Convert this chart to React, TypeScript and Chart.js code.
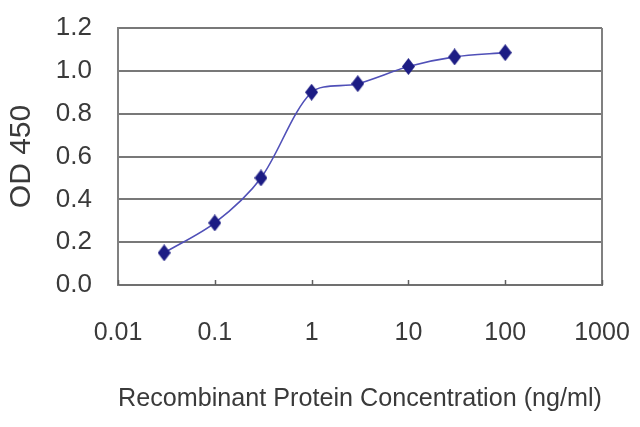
import React, { useEffect, useRef } from "react";
import { Chart, registerables } from "chart.js";

Chart.register(...registerables);

const concentrations = [0.03, 0.1, 0.3, 1, 3, 10, 30, 100];
const odValues = [0.15, 0.29, 0.5, 0.9, 0.94, 1.02, 1.065, 1.085];
const xTickValues = [0.01, 0.1, 1, 10, 100, 1000];
const xTickLabels = ["0.01", "0.1", "1", "10", "100", "1000"];
const yTickLabels = ["0.0", "0.2", "0.4", "0.6", "0.8", "1.0", "1.2"];

const FONT = "'Liberation Sans', Arial, sans-serif";

function makeDiamond(): HTMLCanvasElement {
  const c = document.createElement("canvas");
  c.width = 13;
  c.height = 17;
  const ctx = c.getContext("2d")!;
  ctx.fillStyle = "#1c1c84";
  ctx.beginPath();
  ctx.moveTo(6.5, 0);
  ctx.lineTo(13, 8.5);
  ctx.lineTo(6.5, 17);
  ctx.lineTo(0, 8.5);
  ctx.closePath();
  ctx.fill();
  return c;
}

const frameAndTicks = {
  id: "frameAndTicks",
  afterDatasetsDraw(chart: any) {
    const { ctx, chartArea } = chart;
    const xs = chart.scales.x;
    ctx.save();
    ctx.strokeStyle = "#808080";
    ctx.lineWidth = 2;
    ctx.beginPath();
    ctx.moveTo(chartArea.right, chartArea.top);
    ctx.lineTo(chartArea.right, chartArea.bottom);
    ctx.stroke();
    ctx.strokeStyle = "#606060";
    ctx.lineWidth = 1.5;
    xTickValues.forEach((v) => {
      const px = Math.round(xs.getPixelForValue(v)) + 0.5;
      ctx.beginPath();
      ctx.moveTo(px, chartArea.bottom);
      ctx.lineTo(px, chartArea.bottom - 5);
      ctx.stroke();
    });
    ctx.restore();
  },
};

export default function App() {
  const ref = useRef<HTMLCanvasElement | null>(null);

  useEffect(() => {
    if (!ref.current) return;
    const diamond = makeDiamond();
    const chart = new Chart(ref.current, {
      type: "line",
      data: {
        datasets: [
          {
            data: concentrations.map((x, i) => ({ x, y: odValues[i] })),
            borderColor: "#5050b8",
            borderWidth: 1.6,
            tension: 0.3,
            pointStyle: diamond as any,
            pointRadius: 7,
            backgroundColor: "#1c1c84",
            fill: false,
          },
        ],
      },
      plugins: [frameAndTicks],
      options: {
        animation: false,
        responsive: false,
        layout: { padding: { top: 28, right: 38, left: 0, bottom: 0 } },
        plugins: { legend: { display: false }, tooltip: { enabled: false } },
        scales: {
          x: {
            type: "logarithmic",
            min: 0.01,
            max: 1000,
            afterBuildTicks: (scale: any) => {
              scale.ticks = xTickValues.map((v) => ({ value: v }));
            },
            afterFit: (scale: any) => {
              scale.height = 142;
              scale.paddingLeft = 0;
              scale.paddingRight = 0;
            },
            ticks: {
              autoSkip: false,
              maxRotation: 0,
              padding: 33,
              color: "#3a3a3a",
              font: { family: FONT, size: 25 },
              callback: (_v: any, i: number) => xTickLabels[i],
            },
            grid: { drawOnChartArea: false, drawTicks: false },
            border: { color: "#707070", width: 2 },
            title: {
              display: true,
              text: "Recombinant Protein Concentration (ng/ml)",
              color: "#3a3a3a",
              font: { family: FONT, size: 26 },
              padding: { top: 0, bottom: 13 },
            },
          },
          y: {
            min: 0,
            max: 1.2,
            afterBuildTicks: (scale: any) => {
              scale.ticks = yTickLabels.map((t) => ({ value: parseFloat(t) }));
            },
            afterFit: (scale: any) => {
              scale.width = 118;
              scale.paddingTop = 0;
              scale.paddingBottom = 0;
            },
            ticks: {
              padding: 26,
              color: "#3a3a3a",
              font: { family: FONT, size: 26 },
              callback: (_v: any, i: number) => yTickLabels[i],
            },
            grid: { color: "#787878", lineWidth: 2, drawTicks: false },
            border: { color: "#808080", width: 2 },
            title: {
              display: true,
              text: "OD 450",
              color: "#3a3a3a",
              font: { family: FONT, size: 30 },
              padding: { top: 4, bottom: 0 },
            },
          },
        },
      },
    });
    return () => chart.destroy();
  }, []);

  return (
    <div style={{ position: "fixed", left: 0, top: 0, width: 640, height: 427, background: "#fff" }}>
      <canvas ref={ref} width={640} height={427} />
    </div>
  );
}
